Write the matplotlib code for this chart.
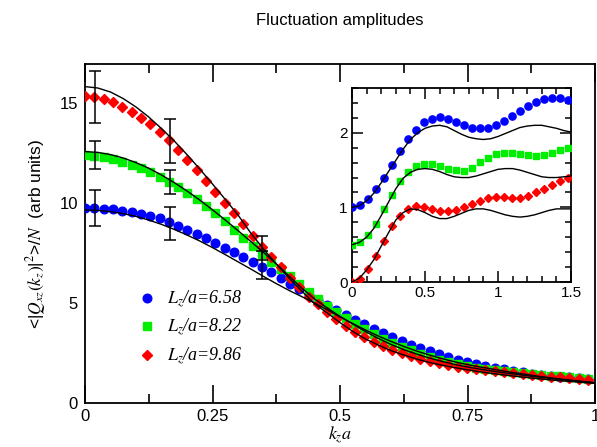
import numpy as np
import matplotlib
matplotlib.use("Agg")
import matplotlib.pyplot as plt
from matplotlib.ticker import MultipleLocator

plt.rcParams['font.family'] = ['Liberation Sans', 'DejaVu Sans']
plt.rcParams['mathtext.fontset'] = 'stix'

# --- main panel: k_z a grid shared by the three data sets
dk = 0.01826
k_main = np.arange(55) * dk

blue_main = [9.77, 9.77, 9.72, 9.68, 9.62, 9.55, 9.46, 9.35, 9.23, 9.05,
             8.87, 8.66, 8.44, 8.23, 7.99, 7.77, 7.54, 7.29, 7.05, 6.79,
             6.53, 6.26, 5.97, 5.69, 5.42, 5.15, 4.90, 4.65, 4.40, 4.15,
             3.93, 3.72, 3.50, 3.30, 3.10, 2.92, 2.73, 2.58, 2.43, 2.30,
             2.17, 2.06, 1.95, 1.85, 1.76, 1.68, 1.60, 1.53, 1.47, 1.42,
             1.37, 1.32, 1.28, 1.24, 1.20]
green_main = [12.40, 12.37, 12.30, 12.20, 12.07, 11.92, 11.74, 11.53, 11.30, 11.07,
              10.80, 10.50, 10.20, 9.87, 9.48, 9.08, 8.67, 8.26, 7.85, 7.45,
              7.07, 6.72, 6.35, 5.95, 5.55, 5.20, 4.85, 4.53, 4.23, 3.95,
              3.68, 3.43, 3.20, 2.98, 2.80, 2.63, 2.47, 2.32, 2.17, 2.05,
              1.93, 1.83, 1.76, 1.69, 1.63, 1.58, 1.53, 1.49, 1.45, 1.41,
              1.37, 1.33, 1.29, 1.25, 1.22]
red_main = [15.35, 15.32, 15.20, 15.03, 14.82, 14.57, 14.27, 13.93, 13.57, 13.13,
            12.65, 12.15, 11.63, 11.10, 10.55, 10.02, 9.48, 8.93, 8.37, 7.80,
            7.28, 6.78, 6.27, 5.78, 5.32, 4.93, 4.55, 4.18, 3.85, 3.55,
            3.28, 3.05, 2.85, 2.65, 2.48, 2.33, 2.20, 2.08, 1.98, 1.90,
            1.82, 1.75, 1.69, 1.64, 1.59, 1.54, 1.49, 1.45, 1.41, 1.37,
            1.32, 1.28, 1.24, 1.20, 1.17]

# theory curves (main)
k_fit = np.arange(41) * 0.025
blue_fit = [9.65, 9.63, 9.57, 9.47, 9.33, 9.15, 8.93, 8.68, 8.40, 8.10,
            7.77, 7.42, 7.06, 6.70, 6.33, 5.97, 5.63, 5.32, 5.00, 4.66,
            4.30, 3.97, 3.65, 3.35, 3.08, 2.83, 2.60, 2.40, 2.22, 2.06,
            1.92, 1.80, 1.69, 1.58, 1.48, 1.39, 1.30, 1.22, 1.15, 1.08, 1.02]
green_fit = [12.57, 12.53, 12.42, 12.25, 12.02, 11.74, 11.40, 11.02, 10.60, 10.15,
             9.66, 9.15, 8.62, 8.08, 7.53, 6.96, 6.35, 5.75, 5.20, 4.75,
             4.33, 3.95, 3.57, 3.23, 2.93, 2.67, 2.45, 2.25, 2.08, 1.93,
             1.80, 1.69, 1.59, 1.50, 1.42, 1.34, 1.27, 1.20, 1.13, 1.07, 1.00]
red_fit = [15.82, 15.75, 15.55, 15.22, 14.80, 14.30, 13.72, 13.10, 12.42, 11.70,
           10.95, 10.18, 9.40, 8.50, 7.70, 6.95, 6.25, 5.60, 4.97, 4.50,
           4.02, 3.58, 3.20, 2.90, 2.62, 2.40, 2.20, 2.03, 1.89, 1.77,
           1.66, 1.56, 1.47, 1.39, 1.32, 1.25, 1.19, 1.13, 1.08, 1.03, 0.98]

# error bars
err_k = [0.0196, 0.0196, 0.0196, 0.167, 0.167, 0.167, 0.347, 0.347]
err_y = [15.3, 12.4, 9.75, 13.1, 11.05, 8.97, 7.75, 6.9]
err_d = [1.3, 0.7, 0.9, 1.1, 0.62, 0.82, 0.6, 0.7]

labels = ['6.58', '8.22', '9.86']

# --- inset
k_ins = np.arange(28) * 0.05478
blue_ins = [1.00, 1.03, 1.11, 1.24, 1.40, 1.57, 1.75, 1.91, 2.04, 2.14,
            2.19, 2.21, 2.19, 2.15, 2.11, 2.07, 2.06, 2.06, 2.11, 2.16,
            2.22, 2.29, 2.36, 2.41, 2.45, 2.46, 2.46, 2.44]
green_ins = [0.49, 0.53, 0.63, 0.78, 0.98, 1.17, 1.35, 1.47, 1.55, 1.58,
             1.58, 1.56, 1.52, 1.50, 1.49, 1.53, 1.61, 1.66, 1.71, 1.73,
             1.73, 1.72, 1.70, 1.69, 1.70, 1.73, 1.77, 1.79]
red_ins = [0.00, 0.04, 0.17, 0.35, 0.55, 0.75, 0.89, 0.98, 1.02, 1.01,
           0.98, 0.95, 0.95, 0.97, 1.00, 1.05, 1.09, 1.13, 1.14, 1.14,
           1.12, 1.12, 1.15, 1.20, 1.25, 1.30, 1.35, 1.40]

k_ins_fit = np.arange(31) * 0.05
blue_ins_fit = [1.00, 1.02, 1.09, 1.19, 1.33, 1.48, 1.63, 1.78, 1.91, 2.00,
                2.06, 2.09, 2.10, 2.08, 2.03, 1.98, 1.94, 1.92, 1.91, 1.92,
                1.95, 1.99, 2.03, 2.07, 2.09, 2.10, 2.10, 2.08, 2.06, 2.03, 2.01]
green_ins_fit = [0.50, 0.53, 0.60, 0.72, 0.89, 1.07, 1.25, 1.39, 1.47, 1.51,
                 1.52, 1.51, 1.48, 1.44, 1.41, 1.40, 1.40, 1.42, 1.45, 1.48,
                 1.51, 1.52, 1.52, 1.50, 1.47, 1.44, 1.41, 1.40, 1.40, 1.41, 1.42]
red_ins_fit = [0.00, 0.05, 0.16, 0.30, 0.48, 0.66, 0.83, 0.93, 0.98, 0.97,
               0.93, 0.88, 0.85, 0.85, 0.88, 0.92, 0.96, 0.98, 0.98, 0.96,
               0.93, 0.90, 0.88, 0.87, 0.88, 0.90, 0.93, 0.96, 0.98, 0.98, 0.98]

colors = ['#0000ff', '#00ee00', '#ff0000']
markers = ['o', 's', 'D']
msizes = [6.2, 5.2, 5.0]

fig = plt.figure(figsize=(5.97, 4.47), dpi=100)
ax = fig.add_axes([85/597, 44/447, 510/597, 339/447])

for y, c, m, ms, lab in zip([blue_main, green_main, red_main], colors, markers, msizes, labels):
    ax.plot(k_main, y, ls='none', marker=m, ms=ms, color=c, mec=c,
            label=r'$L_z$/a=' + lab, zorder=3)
for y in [blue_fit, green_fit, red_fit]:
    ax.plot(k_fit, y, color='black', lw=1.0, zorder=4)
ax.errorbar(err_k, err_y, yerr=err_d, fmt='none', ecolor='black', elinewidth=1.1,
            capsize=4, capthick=1.1, zorder=5)

ax.set_xlim(0, 1)
ax.set_ylim(0, 16.95)
ax.xaxis.set_major_locator(MultipleLocator(0.25))
ax.xaxis.set_minor_locator(MultipleLocator(0.125))
ax.yaxis.set_major_locator(MultipleLocator(5))
ax.set_xticks([0, 0.25, 0.5, 0.75, 1])
ax.set_xticklabels(['0', '0.25', '0.5', '0.75', '1'])
ax.tick_params(axis='x', which='major', direction='in', length=13, width=1.2,
               top=True, labelsize=12, pad=4)
ax.tick_params(axis='x', which='minor', direction='in', length=6.5, width=1.2, top=True)
ax.tick_params(axis='y', which='major', direction='in', length=0, labelsize=12, pad=5)
for s in ax.spines.values():
    s.set_linewidth(1.3)

ax.set_xlabel(r'$k_z a$', fontsize=13, labelpad=1)
ax.set_ylabel(r'<|$Q_{xz}(k_z)$|$^2$>/$N$  (arb units)', fontsize=12.5, labelpad=8)

leg = ax.legend(loc='center left', bbox_to_anchor=(53/510, 0.222), frameon=False,
                handlelength=1.0, handletextpad=0.6, borderpad=0, borderaxespad=0,
                labelspacing=0.4, prop={'family': 'Liberation Serif', 'style': 'italic', 'size': 13})

fig.text(340/597, 1 - 20/447, 'Fluctuation amplitudes', ha='center', va='center', fontsize=12)

# inset
axi = fig.add_axes([352/597, 165/447, 219/597, 194/447])
for y, c, m in zip([blue_ins, green_ins, red_ins], colors, markers):
    axi.plot(k_ins, y, ls='none', marker=m, ms=5.2 if m == 'o' else 4.5, color=c, mec=c, zorder=3)
for y in [blue_ins_fit, green_ins_fit, red_ins_fit]:
    axi.plot(k_ins_fit, y, color='black', lw=1.0, zorder=4)
axi.set_xlim(0, 1.5)
axi.set_ylim(0, 2.6)
axi.xaxis.set_major_locator(MultipleLocator(0.5))
axi.xaxis.set_minor_locator(MultipleLocator(0.1))
axi.yaxis.set_major_locator(MultipleLocator(1))
axi.yaxis.set_minor_locator(MultipleLocator(0.2))
axi.set_xticks([0, 0.5, 1, 1.5])
axi.set_xticklabels(['0', '0.5', '1', '1.5'])
axi.set_yticks([0, 1, 2])
axi.set_yticklabels(['0', '1', '2'])
axi.tick_params(which='major', direction='in', length=8, width=1.1, top=True, right=True,
                labelsize=11, pad=3)
axi.tick_params(which='minor', direction='in', length=4.5, width=1.1, top=True, right=True)
for s in axi.spines.values():
    s.set_linewidth(1.3)

fig.savefig('out.png', dpi=100)
